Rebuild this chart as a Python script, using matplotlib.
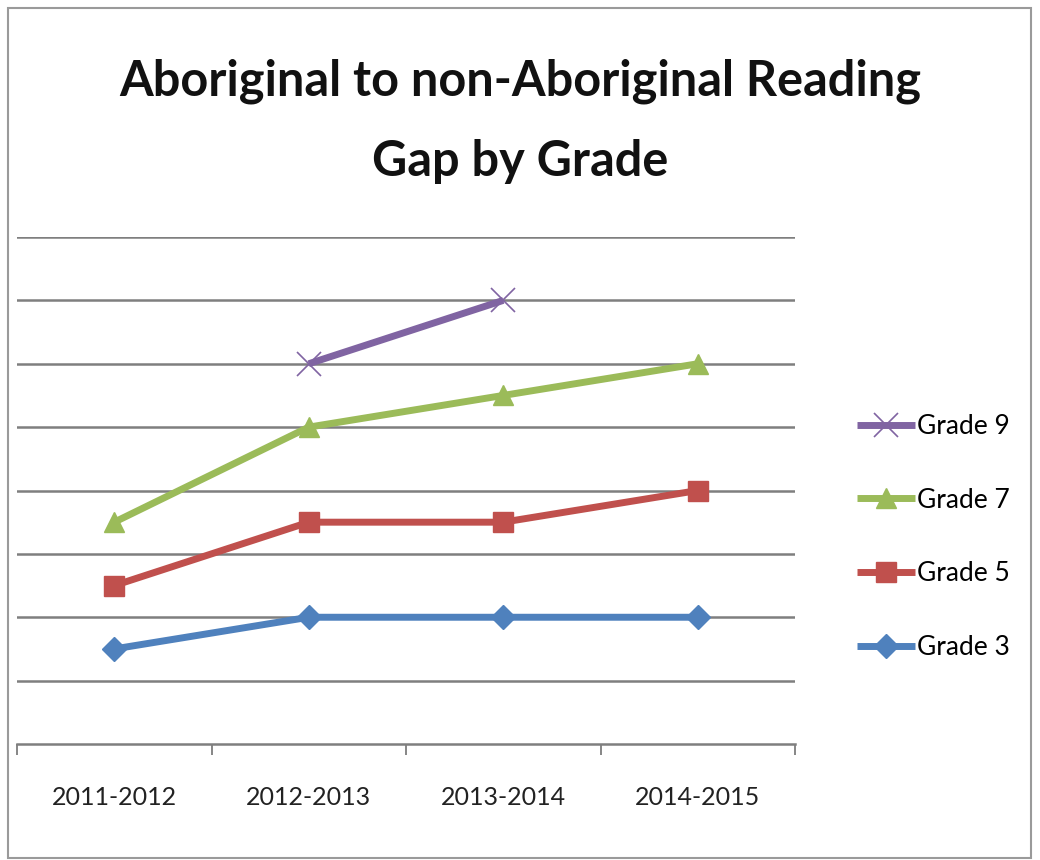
import matplotlib

matplotlib.use("Agg")
import matplotlib.pyplot as plt
import numpy as np
from matplotlib.patches import Rectangle

years = ["2011-2012", "2012-2013", "2013-2014", "2014-2015"]
grade3 = [1.5, 2.0, 2.0, 2.0]
grade5 = [2.5, 3.5, 3.5, 4.0]
grade7 = [3.5, 5.0, 5.5, 6.0]
grade9 = [np.nan, 6.0, 7.0, np.nan]

series = [
    ("Grade 9", grade9, "#8064A2", "x", 17, 1.2),
    ("Grade 7", grade7, "#9BBB59", "^", 15, 1.0),
    ("Grade 5", grade5, "#C0504D", "s", 14, 1.0),
    ("Grade 3", grade3, "#4F81BD", "D", 12, 1.0),
]

plt.rcParams["font.family"] = ["Lato", "DejaVu Sans"]

fig = plt.figure(figsize=(10.4, 8.6), dpi=100)
W, H = 1040, 860
ax = fig.add_axes([17 / W, (H - 744) / H, (795 - 17) / W, (744 - 237) / H])

x = np.arange(len(years))
handles = []
for name, vals, color, marker, ms, mew in series:
    (ln,) = ax.plot(x, vals, color=color, lw=5, marker=marker, markersize=ms,
                    markeredgewidth=mew, markeredgecolor=color, markerfacecolor=color,
                    label=name, zorder=3, solid_capstyle="butt")
    handles.append(ln)

ax.set_xlim(-0.5, 3.5)
ax.set_ylim(0, 8)
for y in range(1, 9):
    ax.axhline(y, color="#7f7f7f", lw=1.8, zorder=1)

for s in ["top", "right", "left"]:
    ax.spines[s].set_visible(False)
ax.spines["bottom"].set_color("#7f7f7f")
ax.spines["bottom"].set_linewidth(1.8)
ax.set_yticks([])
ax.set_xticks(np.arange(-0.5, 3.6, 1.0))
ax.set_xticklabels([])
ax.set_xticks(x, minor=True)
ax.set_xticklabels(years, minor=True, fontsize=18, color="#222222")
ax.tick_params(axis="x", which="major", length=8, width=1.4, color="#868686")
ax.tick_params(axis="x", which="minor", length=0, pad=30)

fig.text(0.5, 1 - 121 / H, "Aboriginal to non-Aboriginal Reading\nGap by Grade",
         ha="center", va="center", fontsize=35, fontweight="bold", linespacing=1.95,
         color="#111111")

leg = fig.legend(handles=handles, loc="center left", bbox_to_anchor=(846 / W, 1 - 537 / H),
                 frameon=False, fontsize=19, handlelength=2.2, labelspacing=1.85,
                 handletextpad=0.1, borderaxespad=0)

fig.patches.append(Rectangle((8 / W, 2 / H), 1023 / W, 850 / H, transform=fig.transFigure,
                             fill=False, edgecolor="#9a9a9a", lw=1.5))

fig.savefig("out.png", dpi=100)
